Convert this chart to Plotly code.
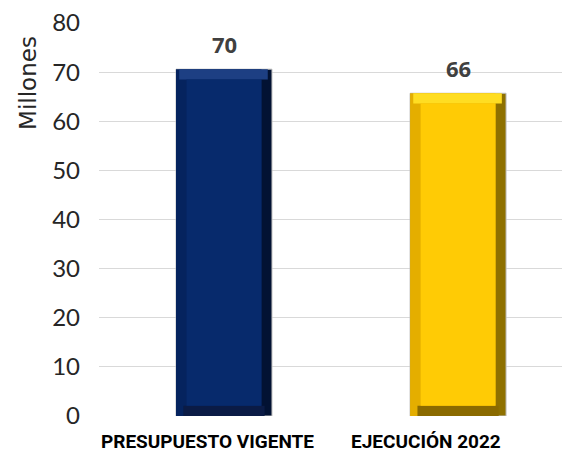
import plotly.graph_objects as go

categories = ["PRESUPUESTO VIGENTE", "EJECUCIÓN 2022"]
values = [70.6, 65.7]
labels = ["70", "66"]
face_colors = ["#072A6C", "#FFCB05"]
top_colors = ["#1D3F83", "#FFDD22"]
left_colors = ["#05235E", "#E4AE00"]
right_colors = ["#021233", "#8E7000"]
bottom_colors = ["#0B1B45", "#8A6A00"]
y_ticks = [0, 10, 20, 30, 40, 50, 60, 70, 80]

W = 0.41      # bar width (category units)
BX = 0.045    # bevel width (category units)
BY = 2.1      # bevel height (value units)
xs = list(range(len(categories)))

fig = go.Figure()
common = dict(x=xs, hoverinfo="skip", showlegend=False)
# full bar (right bevel colour) with thin outline
fig.add_trace(go.Bar(y=values, width=W, offset=-W / 2,
                     marker=dict(color=right_colors, line=dict(color="#BFBFBF", width=1)), **common))
# left bevel
fig.add_trace(go.Bar(y=values, width=W - BX, offset=-W / 2,
                     marker=dict(color=left_colors, line=dict(width=0)), **common))
# bottom bevel
fig.add_trace(go.Bar(y=[BY] * len(values), base=[0] * len(values), width=W - 2 * BX + BX * 0.6,
                     offset=-W / 2 + BX * 0.7,
                     marker=dict(color=bottom_colors, line=dict(width=0)), **common))
# top bevel
fig.add_trace(go.Bar(y=[BY] * len(values), base=[v - BY for v in values], width=W - BX * 0.7,
                     offset=-W / 2 + BX * 0.3,
                     marker=dict(color=top_colors, line=dict(width=0)), **common))
# face
fig.add_trace(go.Bar(y=[v - 2 * BY for v in values], base=[BY] * len(values), width=W - 2 * BX,
                     offset=-W / 2 + BX,
                     marker=dict(color=face_colors, line=dict(width=0)), **common))

for i, (v, t) in enumerate(zip(values, labels)):
    fig.add_annotation(x=i, y=v, text=f"<b>{t}</b>", showarrow=False,
                       yshift=25, font=dict(family="Open Sans", size=22, color="#404040"))

label_shift = [-17, -32]
for i, c in enumerate(categories):
    fig.add_annotation(x=i, y=0, yref="y", text=f"<b>{c}</b>", showarrow=False,
                       yshift=-25, xshift=label_shift[i],
                       font=dict(family="Liberation Sans Narrow, Arial Narrow, Roboto", size=19, color="#000000"))

fig.add_annotation(xref="paper", yref="paper", x=-0.153, y=0.848, xanchor="center", yanchor="middle",
                   text="Millones", textangle=-90, showarrow=False,
                   font=dict(family="DejaVu Sans", size=23, color="#262626"))

fig.update_layout(
    width=562, height=454,
    margin=dict(l=99, r=0, t=23, b=38),
    paper_bgcolor="white", plot_bgcolor="white",
    showlegend=False, barmode="overlay",
    xaxis=dict(range=[-0.534, 1.444], showticklabels=False, showgrid=False,
               zeroline=False, showline=False, ticks=""),
    yaxis=dict(range=[0, 80], tickvals=y_ticks, showgrid=True, gridcolor="#D9D9D9",
               gridwidth=1.3, zeroline=False, showline=False, ticks="",
               ticklabelstandoff=18,
               tickfont=dict(family="Lato", size=24, color="#262626")),
)

fig.write_html("out.html", config={"displayModeBar": False},
               post_script="document.body.style.margin='0';document.body.style.overflow='hidden';")
